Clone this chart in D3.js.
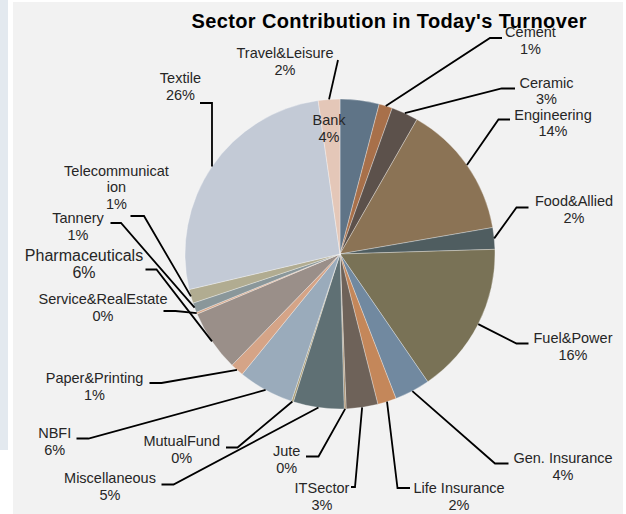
<!DOCTYPE html>
<html>
<head>
<meta charset="utf-8">
<script src="https://cdn.jsdelivr.net/npm/d3@7"></script>
<style>
  html, body { margin: 0; padding: 0; background: #ffffff; }
  svg { display: block; }
</style>
</head>
<body>
<svg id="chart" width="626" height="514"></svg>
<script>
// ---- data ----
const chartTitle = "Sector Contribution in Today's Turnover";
const sectors = ["Bank","Cement","Ceramic","Engineering","Food&Allied","Fuel&Power",
  "Gen. Insurance","Life Insurance","ITSector","Jute","Miscellaneous","MutualFund",
  "NBFI","Paper&Printing","Pharmaceuticals","Service&RealEstate","Tannery",
  "Telecommunication","Textile","Travel&Leisure"];
const values = [4.07,1.4,2.8,14.0,2.25,15.9,3.7,1.95,3.3,0.2,5.3,0.2,5.8,1.4,6.4,0.2,1.0,1.45,26.43,2.25];
const colors = ["#5f7487","#a8704a","#5c514b","#8b7355","#4f5d60","#797256",
  "#7189a0","#c4875a","#6e6259","#a8906f","#5f7074","#a89a70",
  "#9aabbb","#d5a487","#9a8f89","#d8a889","#8a979a",
  "#b1ac91","#c3cad6","#e4c7b8"];

// ---- label layout (text anchor + leader start/elbow) ----
const labelLayout = {
  "Bank":               {x:329,   y:125,   lead:null},
  "Cement":             {x:530.5, y:37,    lead:[502,38,490,38]},
  "Ceramic":            {x:546.5, y:87.5,  lead:[515,88.5,501.7,88.5]},
  "Engineering":        {x:553,   y:119.5, lead:[510,119.5,498.5,119.5]},
  "Food&Allied":        {x:574,   y:206,   lead:[528.5,207.5,516.5,207.5]},
  "Fuel&Power":         {x:573,   y:342.7, lead:[528.5,343.5,516.5,343.5]},
  "Gen. Insurance":     {x:563,   y:462.7, lead:[508.5,463.5,495,463.5]},
  "Life Insurance":     {x:459,   y:492.7, lead:[410,488,397.5,488]},
  "ITSector":           {x:322,   y:492.7, lead:[351,487,355,487]},
  "Jute":               {x:286.7, y:455.7, lead:[306,456.5,318.5,456.5]},
  "Miscellaneous":      {x:110,   y:483.3, lead:[161.5,484.5,173.5,484.5]},
  "MutualFund":         {x:181.7, y:446,   lead:[226,447.5,237.5,447.5]},
  "NBFI":               {x:54.7,  y:438.3, lead:[76.5,438.5,88.5,438.5]},
  "Paper&Printing":     {x:94.5,  y:382.7, lead:[149.5,383,161.5,383]},
  "Pharmaceuticals":    {x:84,    y:261,   lead:[145.5,269.5,156.5,269.5], size:16},
  "Service&RealEstate": {x:103,   y:304,   lead:[163.5,311,175.5,311]},
  "Tannery":            {x:78,    y:223.3, lead:[110.5,223,121,223]},
  "Telecommunication":  {x:116.5, y:175.5, lead:[130.5,216,144,216], lines:["Telecommunicat","ion"]},
  "Textile":            {x:180.4, y:83.3,  lead:[200,103,212,103]},
  "Travel&Leisure":     {x:285,   y:58.3,  lead:[338,60,338,60]}
};

const W = 626, H = 514;
const cx = 340, cy = 254, R = 155;
const svg = d3.select("#chart");

// backgrounds
svg.append("rect").attr("x",0).attr("y",0).attr("width",8).attr("height",450).attr("fill","#e3e9ef");
svg.append("rect").attr("x",13).attr("y",2).attr("width",610).attr("height",512).attr("fill","#f2f2f2");

// title
svg.append("text")
  .attr("x", 389).attr("y", 28)
  .attr("text-anchor","middle")
  .attr("font-family","'Liberation Sans', Arial, sans-serif")
  .attr("font-weight","bold").attr("font-size",20)
  .attr("textLength",395).attr("lengthAdjust","spacing")
  .attr("fill","#000")
  .text(chartTitle);

const data = sectors.map((s,i)=>({name:s, value:values[i], color:colors[i]}));
const total = d3.sum(values);
const pct = d3.format(".0%");

const pie = d3.pie().value(d=>d.value).sort(null);
const arcs = pie(data);
const arc = d3.arc().innerRadius(0).outerRadius(R);

const g = svg.append("g").attr("transform",`translate(${cx},${cy})`);
g.selectAll("path.slice").data(arcs).enter().append("path")
  .attr("class","slice")
  .attr("d", arc)
  .attr("fill", d=>d.data.color)
  .attr("stroke","rgba(255,255,255,0.45)")
  .attr("stroke-width",0.7);

// leaders
const leaderG = svg.append("g");
arcs.forEach(a=>{
  const L = labelLayout[a.data.name];
  if(!L || !L.lead) return;
  const mid = (a.startAngle + a.endAngle)/2;
  const px = cx + R*Math.sin(mid), py = cy - R*Math.cos(mid);
  const pts = [[L.lead[0],L.lead[1]],[L.lead[2],L.lead[3]],[px,py]];
  leaderG.append("path")
    .attr("d", d3.line()(pts))
    .attr("fill","none").attr("stroke","#000").attr("stroke-width",1.8)
    .attr("stroke-linejoin","miter");
});

// labels
const labelG = svg.append("g")
  .attr("font-family","'Liberation Sans', Arial, sans-serif")
  .attr("fill","#262626");
arcs.forEach(a=>{
  const L = labelLayout[a.data.name];
  const lines = (L.lines ? L.lines.slice() : [a.data.name]);
  lines.push(pct(a.data.value/total));
  const size = L.size || 14.5;
  const t = labelG.append("text")
    .attr("text-anchor","middle")
    .attr("font-size", size);
  lines.forEach((ln,i)=>{
    t.append("tspan").attr("x",L.x).attr("y",L.y + i*16.8).text(ln);
  });
});
</script>
</body>
</html>
